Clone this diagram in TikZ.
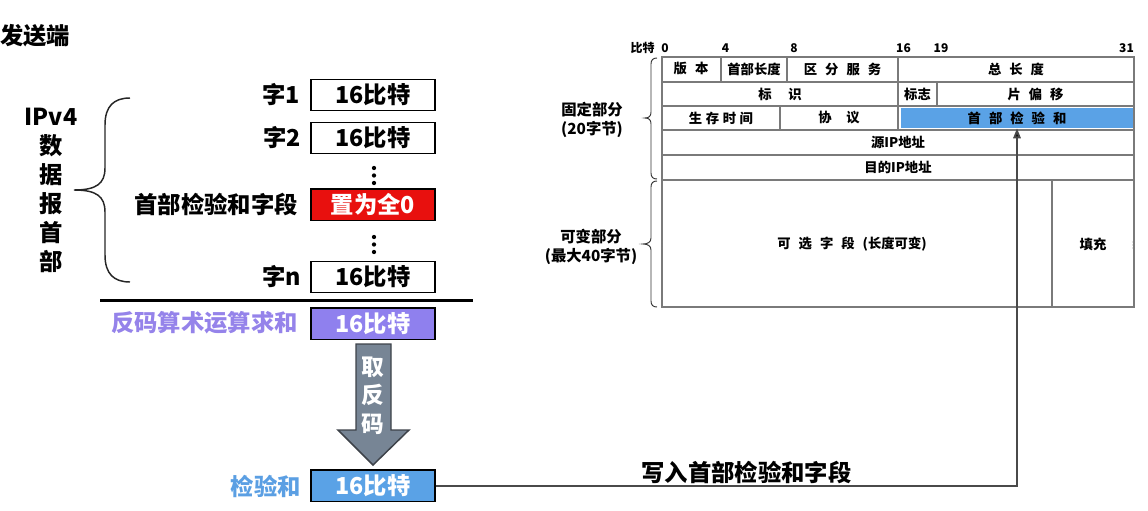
\documentclass[tikz,border=0pt]{standalone}
\usepackage{fontspec}
\setmainfont{Noto Sans CJK SC}
\usetikzlibrary{arrows.meta}
\definecolor{redbox}{HTML}{E8100E}
\definecolor{purplebox}{HTML}{8F80EE}
\definecolor{purpletext}{HTML}{9583EA}
\definecolor{bluebox}{HTML}{5AA2E6}
\definecolor{bluetext}{HTML}{5B9FE3}
\definecolor{arrowgray}{HTML}{778595}
\definecolor{arrowedge}{HTML}{3D4249}
\definecolor{tabline}{HTML}{7A7A7A}
\definecolor{connc}{HTML}{4A4A4A}
\newcommand\kgap{\hspace{0.6em}}
\begin{document}
\begin{tikzpicture}[x=0.75pt,y=-0.75pt,
  big/.style={font=\fontsize{17.5}{20}\selectfont\bfseries, inner sep=0pt},
  wbox/.style={draw=black, line width=1.1pt, minimum width=93pt, minimum height=23.6pt, inner sep=0pt, font=\fontsize{17.5}{20}\selectfont\bfseries},
  tab/.style={font=\fontsize{10}{12}\selectfont\bfseries, inner sep=0pt},
  side/.style={font=\fontsize{11.5}{14.25}\selectfont\bfseries, align=center, inner sep=0pt},
  bits/.style={font=\fontsize{9}{10}\selectfont\bfseries, inner sep=0pt},
  grid/.style={draw=tabline, line width=0.8pt},
  conn/.style={draw=connc, line width=1.5pt, -{Triangle[length=7.5pt,width=5.5pt,fill=black]}},
]
\useasboundingbox (0,0) rectangle (1148,510);

% ---------- left part ----------
\node[big, anchor=west] (title) at (0,36) {发送端};
\node[big, align=center, font=\fontsize{17.5}{21.75}\selectfont\bfseries] (ipv4) at (51,190.5) {IPv4\\数\\据\\报\\首\\部};
\draw[line width=1.1pt, black!85] (130,98) .. controls (114,98) and (105,106) .. (105,125) -- (105,168)
  .. controls (105,184) and (96,190) .. (74,190)
  .. controls (96,190) and (105,196) .. (105,212) -- (105,255)
  .. controls (105,274) and (114,282) .. (130,282);

\node[wbox] (w1) at (373,95) {16比特};
\node[wbox] (w2) at (373,138) {16比特};
\node[wbox, fill=redbox, text=white] (zero) at (373,204.5) {置为全0};
\node[wbox] (wn) at (373,277) {16比特};
\node[wbox, fill=purplebox, text=white] (sum) at (373,323.5) {16比特};
\node[wbox, fill=bluebox, text=white] (ck) at (373,485.5) {16比特};

\node[big, anchor=east] (l1) at (300,95) {字1};
\node[big, anchor=east] (l2) at (301,138) {字2};
\node[big, anchor=east] (lz) at (298,205) {首部检验和字段};
\node[big, anchor=east] (ln) at (301,277) {字n};
\node[big, anchor=east, text=purpletext] (ls) at (298,323) {反码算术运算求和};
\node[big, anchor=east, text=bluetext] (lc) at (301,486) {检验和};

\foreach \yy in {168,175.5,183,237,244.5,252} \fill (374,\yy) circle (1.6pt);

\draw[line width=2.25pt] (100,300.5) -- (473,300.5);

\draw[fill=arrowgray, draw=arrowedge, line width=1.1pt] (356,344) -- (391,344) -- (391,430) -- (409,430) -- (373,465) -- (338,430) -- (356,430) -- cycle;
\node[font=\fontsize{17}{21.4}\selectfont\bfseries, text=white, align=center, inner sep=0pt] (inv) at (373,395.5) {取\\反\\码};

\node[big] (wr) at (746.5,472) {写入首部检验和字段};

% ---------- header table ----------
\node[bits, anchor=east] (bitlab) at (655,48) {比特};
\node[bits] (b0) at (665,48) {0};
\node[bits] (b4) at (725.5,48) {4};
\node[bits] (b8) at (794,48) {8};
\node[bits] (b16) at (903.5,48) {16};
\node[bits] (b19) at (941,48) {19};
\node[bits] (b31) at (1126.5,48) {31};

\node[fill=bluebox, minimum width=174pt, minimum height=15pt, tab] (hc) at (1017,118) {首\kgap 部\kgap 检\kgap 验\kgap 和};

\draw[grid] (662,57) rectangle (1134,307);
\foreach \yy in {82,106,130,155,180} \draw[grid] (662,\yy) -- (1134,\yy);
\draw[grid] (721,57) -- (721,82);
\draw[grid] (787,57) -- (787,82);
\draw[grid] (898,57) -- (898,130);
\draw[grid] (937,82) -- (937,106);
\draw[grid] (780,106) -- (780,130);
\draw[grid] (1052,180) -- (1052,307);

\node[tab] (t1) at (691,69) {版\kgap 本};
\node[tab] (t2) at (754,69) {首部长度};
\node[tab] (t3) at (842.5,69) {区\kgap 分\kgap 服\kgap 务};
\node[tab] (t4) at (1016,69) {总\kgap 长\kgap 度};
\node[tab] (t5) at (780,94) {标\hspace{1.25em}识};
\node[tab] (t6) at (917.5,94) {标志};
\node[tab] (t7) at (1035.5,94) {片\kgap 偏\kgap 移};
\node[tab] (t8) at (721,118) {生\hspace{0.27em}存\hspace{0.27em}时\hspace{0.27em}间};
\node[tab] (t9) at (839,118) {协\hspace{1.1em}议};
\node[tab] (t10) at (898,142.5) {源IP地址};
\node[tab] (t11) at (898,167.5) {目的IP地址};
\node[tab] (t12) at (852,244) {可\kgap 选\kgap 字\kgap 段\kgap (长度可变)};
\node[tab] (t13) at (1093,244) {填充};

\foreach \yy in {242,245,248} {\fill[gray] (662,\yy) circle (0.5pt); \fill[gray] (1133,\yy) circle (0.5pt);}

% braces of the table
\draw[line width=0.7pt, black!80] (657,58) .. controls (653,58) and (651,60) .. (651,64) -- (651,112)
  .. controls (651,116) and (649,118) .. (645,118)
  .. controls (649,118) and (651,120) .. (651,124) -- (651,173)
  .. controls (651,177) and (653,179) .. (657,179);
\draw[line width=0.7pt, black!80] (657,181) .. controls (653,181) and (651,183) .. (651,187) -- (651,238)
  .. controls (651,242) and (648,244) .. (643,244)
  .. controls (648,244) and (651,246) .. (651,250) -- (651,301)
  .. controls (651,305) and (653,307) .. (657,307);
\node[side] (fix) at (592,119.5) {固定部分\\(20字节)};
\node[side] (var) at (591,246.5) {可变部分\\(最大40字节)};

% connector
\draw[conn] (ck.east) -| (hc.south);
\end{tikzpicture}
\end{document}
